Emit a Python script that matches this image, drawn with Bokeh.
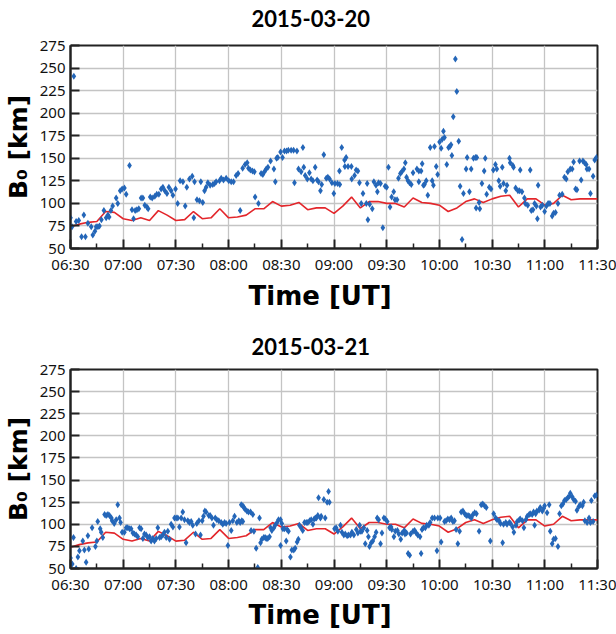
from bokeh.plotting import figure
from bokeh.layouts import column
from bokeh.models import FixedTicker, Range1d, Title, LinearAxis
from bokeh.embed import file_html
from bokeh.resources import INLINE

# x values: minutes after 06:30 UT
tick_minutes = [0, 30, 60, 90, 120, 150, 180, 210, 240, 270, 300]
tick_labels = ["06:30", "07:00", "07:30", "08:00", "08:30", "09:00",
               "09:30", "10:00", "10:30", "11:00", "11:30"]
minor_minutes = [15, 45, 75, 105, 135, 165, 195, 225, 255, 285]
y_ticks = [50, 75, 100, 125, 150, 175, 200, 225, 250, 275]

# red model curve (5-minute steps), same on both days
model_t = [0, 5, 10, 15, 20, 25, 30, 35, 40, 45, 50, 55, 60, 65, 70, 75, 80, 85, 90, 95,
           100, 105, 110, 115, 120, 125, 130, 135, 140, 145, 150, 155, 160, 165, 170, 175,
           180, 185, 190, 195, 200, 205, 210, 215, 220, 225, 230, 235, 240, 245, 250, 255,
           260, 265, 270, 275, 280, 285, 290, 295, 300]
model_b = [74, 77, 79, 80, 91, 90, 83, 81, 84, 81, 92, 87, 81, 82, 91, 83, 84, 94, 84, 85,
           87, 94, 94, 102, 97, 98, 101, 93, 95, 95, 89, 97, 107, 95, 102, 102,
           100, 100, 96, 106, 101, 100, 98, 91, 95, 102, 105, 101, 105, 108, 109, 96,
           105, 105, 98, 100, 109, 104, 105, 105, 105]

# 2015-03-20 observations
t20 = [0, 1.9, 0.9, 3.2, 4.7, 6.3, 7.6, 8.5, 9.9, 11.8, 12.7, 13.9, 14.6, 15.6, 16.5, 17.6,
       19, 20.3, 21.3, 22, 23, 24, 26, 26.9, 28.3, 29.4, 30.7, 31.7, 33.6, 35, 35.9, 36.8,
       37.8, 38.9, 40.2, 41.2, 42.3, 43.5, 44.2, 45.4, 46.5, 48, 49.1, 50.3, 51.6, 52.6,
       53.7, 54.9, 56, 57.3, 58.3, 59.8, 61, 62.4, 64, 65.3, 66.2, 67.7, 69.3, 70.6, 70.2,
       72, 73.4, 74.2, 75.3, 76.3, 77.2, 78.2, 79.5, 81, 82, 82.9, 84.8, 85.8, 87.1, 88.6,
       90.1, 91.5, 92.8, 94.3, 95.4, 96.6,
       98, 99.4, 100.6, 101.3, 102.4, 103.6, 104.7, 105.1, 107, 108.5, 109.5, 110.4, 111.4,
       112.4, 113.9, 115.8, 116.6, 117.3, 118, 119.6, 120.7, 121.8, 123, 124, 125.6, 127,
       127.5, 128.9, 129.8, 131.3, 132.3, 132.8, 133.6, 134.8, 136, 137, 138, 139.3, 140.4,
       141.2, 142.3, 143, 144.2, 145.6, 146.5, 147.5, 148.8, 149.9, 150.5, 152, 153.3,
       153.1, 154.4, 156, 156.9, 156.2, 158, 159.9, 160.1, 161.7, 162.6, 163.6, 164.5,
       165.5, 166.5, 168.4, 168.9, 169.3, 170.3, 171.8, 172.7, 173.9, 174.7, 175.4, 176.5,
       177.8, 179.1, 180, 181, 181.9, 182.8, 184, 184.7, 185.9, 186.7, 187.8, 188.6, 189.8,
       190.6, 191.3, 192.1, 193, 194, 195,
       197.2, 198.3, 199.6, 200.2, 198.3, 200.9, 201.5, 202.5, 203.4, 204.8, 205.9, 206.6,
       207.2, 208.2, 209, 210.1, 211, 211.6, 212.3, 212.9, 214.2, 215.2, 216, 216.6, 217.1,
       217.9, 219.1, 219.9, 221, 221.8, 222.9, 223.7, 225.2, 225.8, 227.1, 228.1, 229.4,
       230.5, 231.3, 230.9, 232.6, 233, 234.2, 235.5, 236.1, 236.9, 238.4, 239.4, 240.7,
       241.9, 242.7, 243.8, 244.6, 245.8, 246.5, 247.8, 248.5, 249.9, 250.3, 251.8, 252.2,
       253.4, 254.7, 256, 255.6, 257, 258.4, 258.9, 260.3, 261.7, 262.3, 263.3, 264.2,
       265.2, 266.2, 265.8, 267.6, 268.6, 269.9, 270.9, 271.9, 272.9, 274.2, 275, 276.1,
       277.5, 278.4, 279.9, 281.2, 282.2, 283.1, 284.5, 285.6, 286.4, 287.5, 288.3, 289.8,
       290.7, 291.7, 292.6, 293.6, 294, 295.2, 296, 297.5, 298.4, 299.4]
b20 = [84, 241, 74, 80, 81, 63, 87, 63, 78, 74, 65, 69, 74, 74, 75, 82,
       92, 84, 87, 85, 92, 97, 106, 100, 114, 116, 117, 110, 142, 93, 83, 92,
       93, 94, 106, 106, 98, 96, 94, 107, 106, 108, 110, 110, 116, 118,
       114, 111, 118, 114, 109, 116, 100, 125, 124, 97, 118, 127, 130, 124, 84,
       104, 103, 124, 101, 114, 118, 123, 120, 121, 122, 124, 125, 128, 126, 128,
       125, 124, 124, 131, 133, 92,
       139, 143, 145, 139, 137, 136, 135, 107, 100, 133, 132, 135, 138,
       140, 147, 138, 124, 150, 151, 157, 151, 158, 158, 159, 159, 159,
       123, 158, 138, 135, 162, 140, 131, 127, 134, 127, 125, 140, 126,
       124, 114, 121, 154, 128, 129, 127, 123, 111, 122, 122, 121,
       136, 162, 148, 151, 141, 141, 141, 127, 131, 137, 136, 123,
       100, 111, 100, 122, 82, 99, 94, 124, 120, 113, 123, 122,
       73, 119, 118, 140, 96, 107, 113, 104, 104, 128, 133, 135, 138,
       145, 129, 125, 123, 121, 134,
       138, 136, 136, 144, 124, 120, 121, 125, 109, 162, 125, 120,
       163, 141, 132, 168, 161, 171, 180, 173, 143, 162, 163, 165, 153,
       196, 260, 224, 169, 119, 60, 111, 138, 151, 113, 138, 150,
       151, 151, 95, 101, 94, 122, 136, 150, 110, 118, 116, 137,
       143, 138, 125, 119, 140, 122, 114, 120, 150, 145, 142, 140,
       117, 114, 137, 114, 113, 106, 100, 98, 137, 92, 93, 100,
       97, 120, 83, 96, 98, 91, 97, 100, 100, 86, 89, 90,
       100, 109, 110, 129, 127, 135, 138, 138, 146, 116, 115, 147,
       126, 147, 145, 143, 138, 138, 111, 130, 148, 151]

# 2015-03-21 observations
t21 = [0, 1, 1.7, 3.2, 4.2, 5.1, 7, 7.9, 8.9, 9.9, 10.4, 12.3, 14.2, 15, 15.5, 16.9, 17.5,
       18.4, 19.4, 20.3, 21.3, 22.2, 23.3, 23.7, 24.9, 26, 26.9, 27.9, 28.5, 29.4, 30.7,
       31.7, 32.6, 33.6, 34.5, 35.5, 36.4, 37.4, 38.3, 39.3, 40.2, 41.2, 42.1, 43.1, 44,
       45, 45.9, 46.9, 47.8, 48.8, 49.7, 50.7, 51.6, 52.6, 53.5, 54.5, 55.4, 56.4, 57.3,
       58.3, 59.2, 60.2, 61.1, 62, 63, 63.9, 64.9, 65.8, 66.8, 67.7, 68.7, 69.6, 71.2,
       71.9, 73.1, 74, 75, 75.7, 76.5, 77.2, 78.7, 79.5, 80.5, 81.4, 82.4, 83.3, 84.4,
       85.8, 86.7, 87.7, 88.6, 89.6, 90.5, 91.5, 92.4, 93.4, 94.7, 95.8, 96.6,
       97.2, 98.1, 98.7, 99.4, 100.4, 101.3, 102.5, 103.8, 97.5, 98.1, 102.8, 104.4, 105.7,
       106.6, 107.6, 108.2, 108.9, 110, 110.8, 111.4, 112.3, 113.3, 113.9, 114.6, 115.8,
       116.5, 117.6, 118.4, 119.6, 120.3, 119.6, 120.9, 121.8, 122.8, 123.3, 124.1, 125.2,
       126, 127.1, 127.9, 129, 129.7, 130.3, 131.3, 132.2, 133.2, 134.2, 135.1, 136.1, 137,
       138, 138.7, 139.4, 140, 140.8, 141.2, 142.3, 142.7, 144.2, 145, 146.1, 146.9, 147.4,
       150.3, 151.2, 152.2, 153.7, 154.5, 155.6, 156.4, 157.5, 158.3, 159.4, 160.2, 161.3,
       162.7, 163.6, 164.6, 165.1, 165.9, 167, 167.8, 168.9, 169.6, 170.2, 171.2, 172.1,
       173.1, 174, 174.6, 175.4, 176.5, 177.3, 178.4, 179.2, 180.3, 181.6, 182.5, 182.9,
       184.1, 184.9, 186.1, 186.9, 188, 188.8, 190, 190.4, 191.3, 192.2, 193.1, 193.6, 195,
       195.9,
       196.8, 197.7, 199, 199.6, 200.1, 200.9, 202, 202.8, 204, 204.7, 205.9, 207.2, 208.6,
       209.1, 210.4, 211, 212.9, 213.8, 214.8, 215.8, 216.7, 217.7, 218.6, 219.5, 220.5,
       221.5, 222.4, 223.4, 224.4, 225.3, 226.3, 227.2, 228.2, 229.1, 230.1, 231.1, 232.6,
       233.8, 234.7, 235.7, 236.7, 239, 240.9, 242, 242.8, 244, 244.8, 246, 246.5, 247.8,
       248.5, 249.8, 250.5, 251.7, 252.4, 253.6, 254.3, 255.5, 256, 257.3, 258.1, 259.2,
       260, 261.1, 261.7, 262.8, 263.6, 264.2, 264.8, 265.5, 266.7, 267.4, 268.6, 269.4,
       269.9, 271.3, 272.5, 273.1, 274.2, 275, 276.1, 277.5, 278.4, 279.4, 280.3, 281.2,
       282.2, 283.1, 284.1, 284.5, 285.6, 286.4, 287.5, 288.3, 289.4, 290.2, 291.4, 292.1,
       292.8, 294.1, 295.2, 296, 296.5, 297.5, 298.4, 299.4]
b21 = [62, 55, 85, 50, 63, 70, 81, 71, 57, 87, 72, 96, 75, 81, 103, 95, 91,
       85, 111, 110, 111, 110, 107, 104, 101, 105, 122, 107, 102, 91, 91,
       96, 96, 95, 95, 90, 89, 88, 86, 96, 95, 84, 89, 88, 85,
       86, 81, 84, 81, 84, 96, 85, 86, 88, 91, 85, 92, 83, 100,
       97, 107, 107, 107, 97, 107, 114, 105, 79, 104, 102, 103, 99, 89,
       101, 104, 88, 104, 109, 115, 114, 110, 110, 107, 99, 107, 105, 104,
       102, 100, 102, 101, 76, 102, 93, 104, 109, 102, 104, 102,
       122, 121, 119, 117, 115, 114, 114, 111, 104, 103, 93, 92, 73,
       51, 107, 79, 83, 85, 85, 84, 84, 86, 96, 93, 96,
       99, 102, 105, 105, 101, 76, 95, 95, 81, 94, 92, 63,
       71, 71, 73, 80, 83, 99, 96, 93, 102, 102, 102, 104, 105,
       100, 106, 107, 107, 110, 130, 107, 109, 128, 107, 125, 137, 125,
       95, 96, 92, 99, 91, 88, 89, 87, 88, 88, 91, 88,
       94, 90, 99, 92, 92, 96, 78, 93, 86, 75, 79, 81,
       86, 91, 107, 105, 78, 90, 107, 106, 103, 96, 97, 94,
       86, 92, 93, 89, 83, 90, 93, 89, 90, 67, 65, 89, 92,
       93,
       90, 88, 86, 67, 94, 96, 96, 99, 99, 102, 107, 107, 70,
       107, 107, 80, 103, 104, 106, 105, 107, 103, 104, 94, 78,
       92, 114, 115, 112, 110, 110, 109, 107, 111, 113, 112, 92,
       122, 123, 121, 119, 81, 112, 107, 105, 104, 101, 79, 100, 102,
       100, 102, 101, 97, 91, 99, 103, 105, 106, 104, 96, 105,
       109, 111, 112, 111, 114, 99, 112, 115, 116, 119, 115, 118,
       121, 113, 122, 92, 78, 83, 84, 75, 112, 121, 123, 127,
       128, 130, 132, 135, 131, 128, 126, 116, 120, 122, 121, 125,
       104, 102, 107, 102, 127, 103, 132, 133]

TITLE_FONT = "Lato"
LABEL_FONT = "DejaVu Sans"
TICK_FONT = "Noto Sans"


def make_panel(title, t, b, height, border_top, border_bottom,
               title_gap, xlabel_standoff):
    p = figure(width=616, height=height,
               x_range=Range1d(0, 300), y_range=Range1d(50, 275),
               output_backend="svg", toolbar_location=None,
               min_border_left=69, min_border_right=19,
               min_border_top=border_top, min_border_bottom=border_bottom)

    p.line(model_t, model_b, line_color="#e3262b", line_width=1.6)
    p.scatter(t, b, marker="diamond", size=7, fill_color="#2466b8",
              line_color=None)

    xax = p.xaxis[0]
    yax = p.yaxis[0]
    xax.ticker = FixedTicker(ticks=tick_minutes, minor_ticks=minor_minutes)
    xax.major_label_overrides = {m: lab for m, lab in zip(tick_minutes, tick_labels)}
    yax.ticker = FixedTicker(ticks=y_ticks, minor_ticks=[])

    for ax in (xax, yax):
        ax.axis_line_color = "#222222"
        ax.axis_line_width = 2
        ax.major_tick_in = 9
        ax.major_tick_out = 0
        ax.minor_tick_in = 5
        ax.minor_tick_out = 0
        ax.major_tick_line_color = "#222222"
        ax.major_tick_line_width = 2
        ax.minor_tick_line_color = "#222222"
        ax.minor_tick_line_width = 1.5
        ax.major_label_text_font = TICK_FONT
        ax.major_label_text_font_size = "15px"
        ax.major_label_text_color = "#111111"
    yax.axis_label = "B\u2080 [km]"
    yax.axis_label_text_font = LABEL_FONT
    yax.axis_label_text_font_style = "bold"
    yax.axis_label_text_font_size = "25px"
    yax.axis_label_text_color = "black"
    xax.major_label_standoff = 5
    yax.major_label_standoff = 5
    yax.axis_label_standoff = 4

    # blank spacer between the frame and the title (one white tick, no label)
    spacer = LinearAxis(ticker=FixedTicker(ticks=[0], minor_ticks=[]),
                        axis_line_color=None, major_tick_in=0,
                        major_tick_out=title_gap, minor_tick_in=0,
                        minor_tick_out=0, major_tick_line_color="white",
                        major_tick_line_width=0.5,
                        major_label_overrides={0: ""},
                        major_label_text_font_size="1px",
                        major_label_standoff=0)
    p.add_layout(spacer, "above")

    p.add_layout(Title(text=title, align="left", offset=181,
                       standoff=4, vertical_align="top",
                       text_font=TITLE_FONT, text_font_style="bold",
                       text_font_size="22px", text_color="black"), "above")

    # x axis title placed below the tick labels
    p.add_layout(Title(text="Time [UT]", align="left", offset=178,
                       standoff=xlabel_standoff, vertical_align="top",
                       text_font=LABEL_FONT, text_font_style="bold",
                       text_font_size="26px", text_color="black"), "below")

    p.outline_line_color = "#222222"
    p.outline_line_width = 2
    p.xgrid.grid_line_color = "#c4c4c4"
    p.ygrid.grid_line_color = "#c4c4c4"
    p.xgrid.grid_line_width = 1.3
    p.ygrid.grid_line_width = 1.3
    p.background_fill_color = "white"
    p.border_fill_color = "white"
    return p


p1 = make_panel("2015-03-20", t20, b20, 322, 45, 74, 15, 8)
p2 = make_panel("2015-03-21", t21, b21, 312, 47, 63, 11, 6)
layout = column(p1, p2, spacing=0)

open("out.html", "w").write(file_html(layout, INLINE))
